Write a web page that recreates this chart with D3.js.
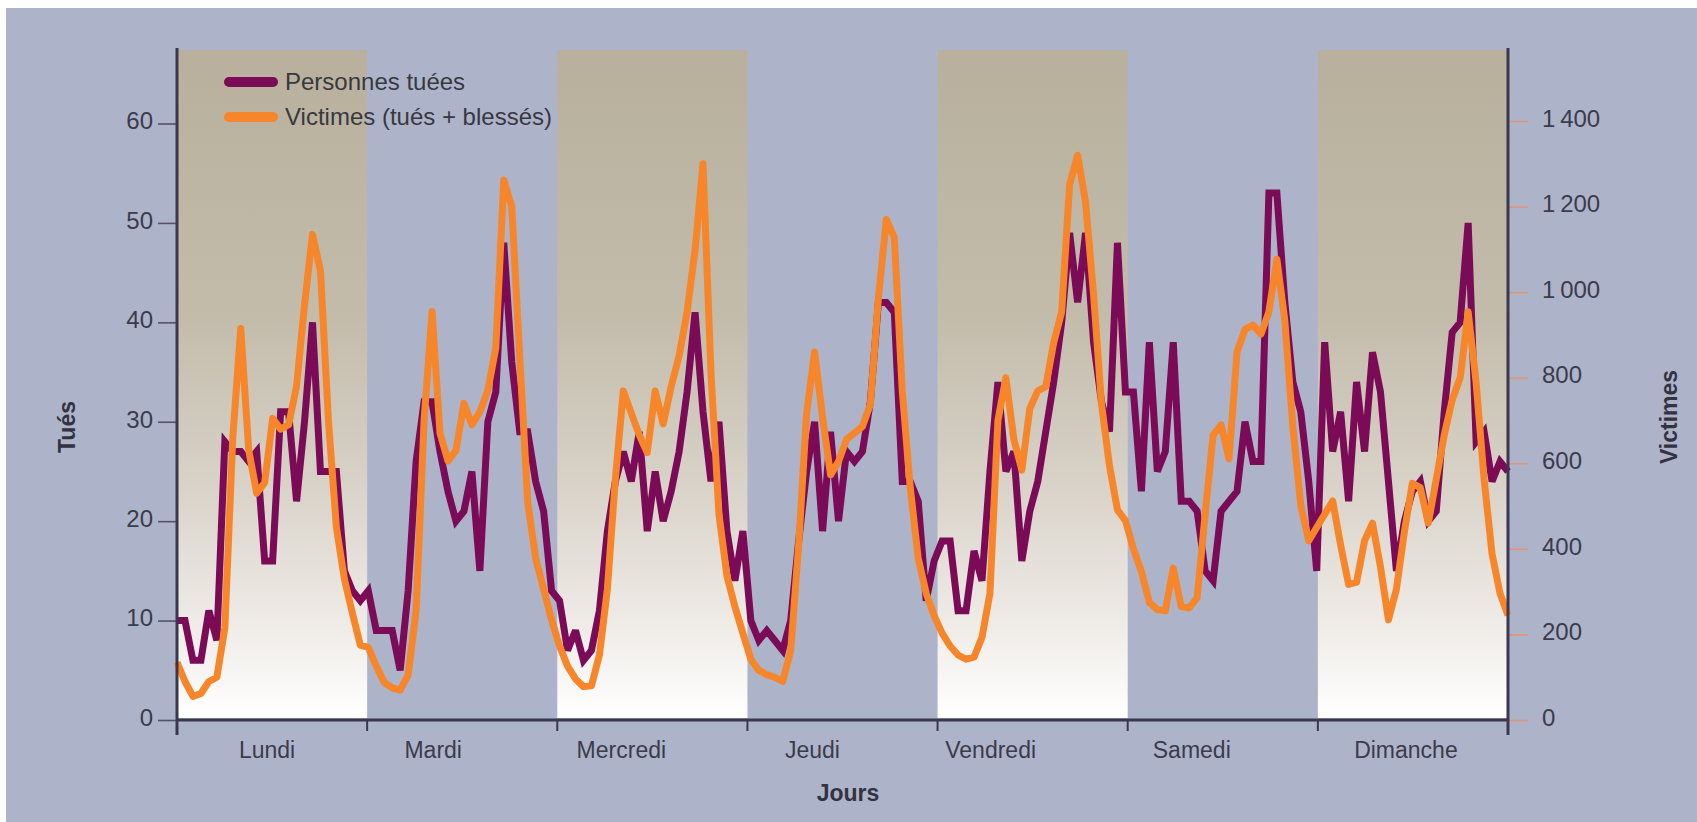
<!DOCTYPE html>
<html lang="fr">
<head>
<meta charset="utf-8">
<title>Tués et victimes selon l'heure et le jour</title>
<script src="https://cdn.jsdelivr.net/npm/d3@7/dist/d3.min.js"></script>
<style>
  html, body { margin: 0; padding: 0; background: #fff; }
  svg { display: block; font-family: "Liberation Sans", Arial, sans-serif; }
</style>
</head>
<body>
<div id="chart"></div>
<script>
// jours de la semaine, 24 valeurs horaires par jour (0 h -> 23 h)
var jours = ["Lundi", "Mardi", "Mercredi", "Jeudi", "Vendredi", "Samedi", "Dimanche"];

var tues = [
    [10, 10, 6, 6, 11, 8, 28, 27, 27, 26, 27, 16, 16, 31, 31, 22, 30, 40, 25, 25, 25, 15, 13, 12],
    [13, 9, 9, 9, 5, 13, 26, 32, 32, 27, 23, 20, 21, 25, 15, 30, 33, 48, 36, 29, 29, 24, 21, 13],
    [12, 7, 9, 6, 7, 11, 19, 24, 27, 24, 29, 19, 25, 20, 23, 27, 33, 41, 31, 24, 30, 19, 14, 19],
    [10, 8, 9, 8, 7, 10, 18, 25, 30, 19, 29, 20, 27, 26, 27, 32, 42, 42, 41, 24, 24, 22, 12, 16],
    [18, 18, 11, 11, 17, 14, 25, 34, 25, 27, 16, 21, 24, 29, 34, 40, 49, 42, 49, 38, 32, 29, 48, 33],
    [33, 23, 38, 25, 27, 38, 22, 22, 21, 15, 14, 21, 22, 23, 30, 26, 26, 53, 53, 42, 34, 31, 24, 15],
    [38, 27, 31, 22, 34, 27, 37, 33, 24, 15, 20, 23, 24, 20, 21, 31, 39, 40, 50, 28, 29, 24, 26, 25]
];

var victimes = [
    [135, 90, 55, 62, 90, 100, 215, 660, 915, 630, 530, 555, 705, 680, 690, 780, 970, 1135, 1050, 700, 450, 330, 250, 175],
    [170, 126, 88, 75, 70, 105, 255, 700, 955, 670, 605, 630, 740, 690, 720, 770, 870, 1262, 1200, 850, 510, 378, 306, 234],
    [173, 126, 96, 78, 80, 152, 306, 563, 769, 717, 666, 625, 769, 692, 779, 851, 954, 1098, 1300, 810, 481, 337, 265, 203],
    [142, 116, 106, 100, 90, 162, 409, 717, 860, 707, 573, 604, 656, 671, 686, 738, 985, 1170, 1128, 769, 543, 378, 296, 244],
    [203, 173, 152, 142, 147, 193, 296, 700, 800, 656, 584, 728, 769, 779, 882, 954, 1252, 1320, 1210, 995, 738, 594, 491, 466],
    [400, 347, 275, 258, 255, 355, 265, 262, 286, 481, 666, 690, 610, 860, 913, 923, 902, 954, 1077, 933, 687, 502, 419, 450],
    [481, 512, 409, 317, 322, 419, 460, 358, 234, 306, 440, 553, 543, 460, 563, 666, 748, 800, 954, 789, 563, 388, 296, 245]
];

var ticksTues = [0, 10, 20, 30, 40, 50, 60];
var ticksVictimes = [0, 200, 400, 600, 800, 1000, 1200, 1400];
var legende = ["Personnes tuées", "Victimes (tués + blessés)"];

(function () {
    'use strict';
    var svg, plot, grad, leg, x, band, yT, yV, lineT, lineV, fr,
        width = 1697, height = 822,
        left = 177, right = 1508, top = 50, bottom = 720,
        // les noms de jours ne sont pas tous centrés dans l'original
        decalage = [-5, -29, -31, -30, -42, -31, -7],
        purple = "#7b0b57", orange = "#f7862b",
        textColor = "#3c3b4a", axisColor = "#3b374f",
        nbHeures = jours.length * 24;

    function flatten(rows) {
        return d3.merge(rows).map(function (v, i) { return {i: i, v: v}; });
    }

    function styleTicks(g, color) {
        g.select(".domain").remove();
        g.selectAll(".tick line").attr("stroke", color).attr("stroke-width", 1.6);
        g.selectAll(".tick text")
            .attr("fill", textColor)
            .attr("font-size", 24)
            .attr("font-family", "Liberation Sans, Arial, sans-serif")
            .attr("dy", "0.22em");
    }

    x = d3.scaleLinear().domain([0, nbHeures - 1]).range([left, right]);
    band = d3.scaleBand().domain(jours).range([left, right]);
    yT = d3.scaleLinear().domain([0, 60]).range([bottom, 123.5]);
    yV = d3.scaleLinear().domain([0, 1400]).range([bottom, 121]);

    fr = d3.formatLocale({decimal: ",", thousands: "\u2009", grouping: [3], currency: ["", " €"]});

    svg = d3.select("#chart").append("svg")
        .attr("width", width)
        .attr("height", height);

    // fond gris bleu avec une marge blanche en haut et à gauche
    svg.append("rect")
        .attr("x", 6).attr("y", 8)
        .attr("width", width - 6).attr("height", height - 8)
        .attr("fill", "#adb4ca");

    grad = svg.append("defs").append("linearGradient")
        .attr("id", "jour")
        .attr("x1", 0).attr("y1", 0).attr("x2", 0).attr("y2", 1);
    [[0, "#b8b09d"], [0.4, "#c3bcab"], [0.65, "#d8d2c8"], [0.86, "#efebe7"], [1, "#ffffff"]]
        .forEach(function (s) {
            grad.append("stop").attr("offset", s[0]).attr("stop-color", s[1]);
        });

    // bandes : un jour sur deux
    svg.append("g").selectAll("rect")
        .data(jours.filter(function (d, i) { return i % 2 === 0; }))
        .enter()
        .append("rect")
        .attr("x", function (d) { return band(d); })
        .attr("y", top)
        .attr("width", band.bandwidth())
        .attr("height", bottom - 2 - top)
        .attr("fill", "url(#jour)");

    plot = svg.append("g");

    lineT = d3.line()
        .x(function (d) { return x(d.i); })
        .y(function (d) { return yT(d.v); });
    lineV = d3.line()
        .x(function (d) { return x(d.i); })
        .y(function (d) { return yV(d.v); });

    plot.append("path")
        .datum(flatten(tues))
        .attr("d", lineT)
        .attr("fill", "none")
        .attr("stroke", purple)
        .attr("stroke-width", 7)
        .attr("stroke-linejoin", "miter")
        .attr("stroke-miterlimit", 3);

    plot.append("path")
        .datum(flatten(victimes))
        .attr("d", lineV)
        .attr("fill", "none")
        .attr("stroke", orange)
        .attr("stroke-width", 7)
        .attr("stroke-linejoin", "round");

    // axe gauche : tués
    svg.append("g")
        .attr("transform", "translate(" + left + ",0)")
        .call(d3.axisLeft(yT).tickValues(ticksTues).tickSize(19).tickPadding(5))
        .call(styleTicks, "#55526a");

    // axe droit : victimes
    svg.append("g")
        .attr("transform", "translate(" + right + ",0)")
        .call(d3.axisRight(yV).tickValues(ticksVictimes).tickSize(20).tickPadding(14)
            .tickFormat(fr.format(",d")))
        .call(styleTicks, "#e0957a");

    // séparations entre les jours
    svg.append("g").selectAll("line")
        .data(jours.slice(1))
        .enter()
        .append("line")
        .attr("x1", function (d) { return band(d); })
        .attr("x2", function (d) { return band(d); })
        .attr("y1", bottom)
        .attr("y2", bottom + 11)
        .attr("stroke", axisColor)
        .attr("stroke-width", 2);

    // lignes des axes
    svg.append("g")
        .attr("stroke", axisColor)
        .attr("stroke-width", 3)
        .selectAll("line")
        .data([[left, top - 2, left, bottom + 15], [right, top - 2, right, bottom + 15], [left, bottom, right, bottom]])
        .enter()
        .append("line")
        .attr("x1", function (d) { return d[0]; })
        .attr("y1", function (d) { return d[1]; })
        .attr("x2", function (d) { return d[2]; })
        .attr("y2", function (d) { return d[3]; });

    svg.append("g").selectAll("text")
        .data(jours)
        .enter()
        .append("text")
        .attr("x", function (d, i) { return band(d) + band.bandwidth() / 2 + decalage[i]; })
        .attr("y", 758)
        .attr("text-anchor", "middle")
        .attr("font-size", 23)
        .attr("fill", textColor)
        .text(function (d) { return d; });

    // titres
    svg.append("text")
        .attr("x", 848).attr("y", 801)
        .attr("text-anchor", "middle")
        .attr("font-size", 23)
        .attr("font-weight", "bold")
        .attr("fill", "#34323f")
        .text("Jours");

    svg.append("text")
        .attr("transform", "translate(75,427) rotate(-90)")
        .attr("text-anchor", "middle")
        .attr("font-size", 23)
        .attr("font-weight", "bold")
        .attr("fill", "#34323f")
        .text("Tués");

    svg.append("text")
        .attr("transform", "translate(1677,417) rotate(-90)")
        .attr("text-anchor", "middle")
        .attr("font-size", 23)
        .attr("font-weight", "bold")
        .attr("fill", "#34323f")
        .text("Victimes");

    // légende
    leg = svg.append("g").selectAll("g")
        .data(legende)
        .enter()
        .append("g")
        .attr("transform", function (d, i) { return "translate(0," + (82 + i * 35) + ")"; });

    leg.append("line")
        .attr("x1", 229).attr("x2", 273)
        .attr("stroke", function (d, i) { return i === 0 ? purple : orange; })
        .attr("stroke-width", 10)
        .attr("stroke-linecap", "round");

    leg.append("text")
        .attr("x", 285)
        .attr("dy", "0.35em")
        .attr("font-size", 24)
        .attr("fill", "#38383f")
        .text(function (d) { return d; });

}());
</script>
</body>
</html>
